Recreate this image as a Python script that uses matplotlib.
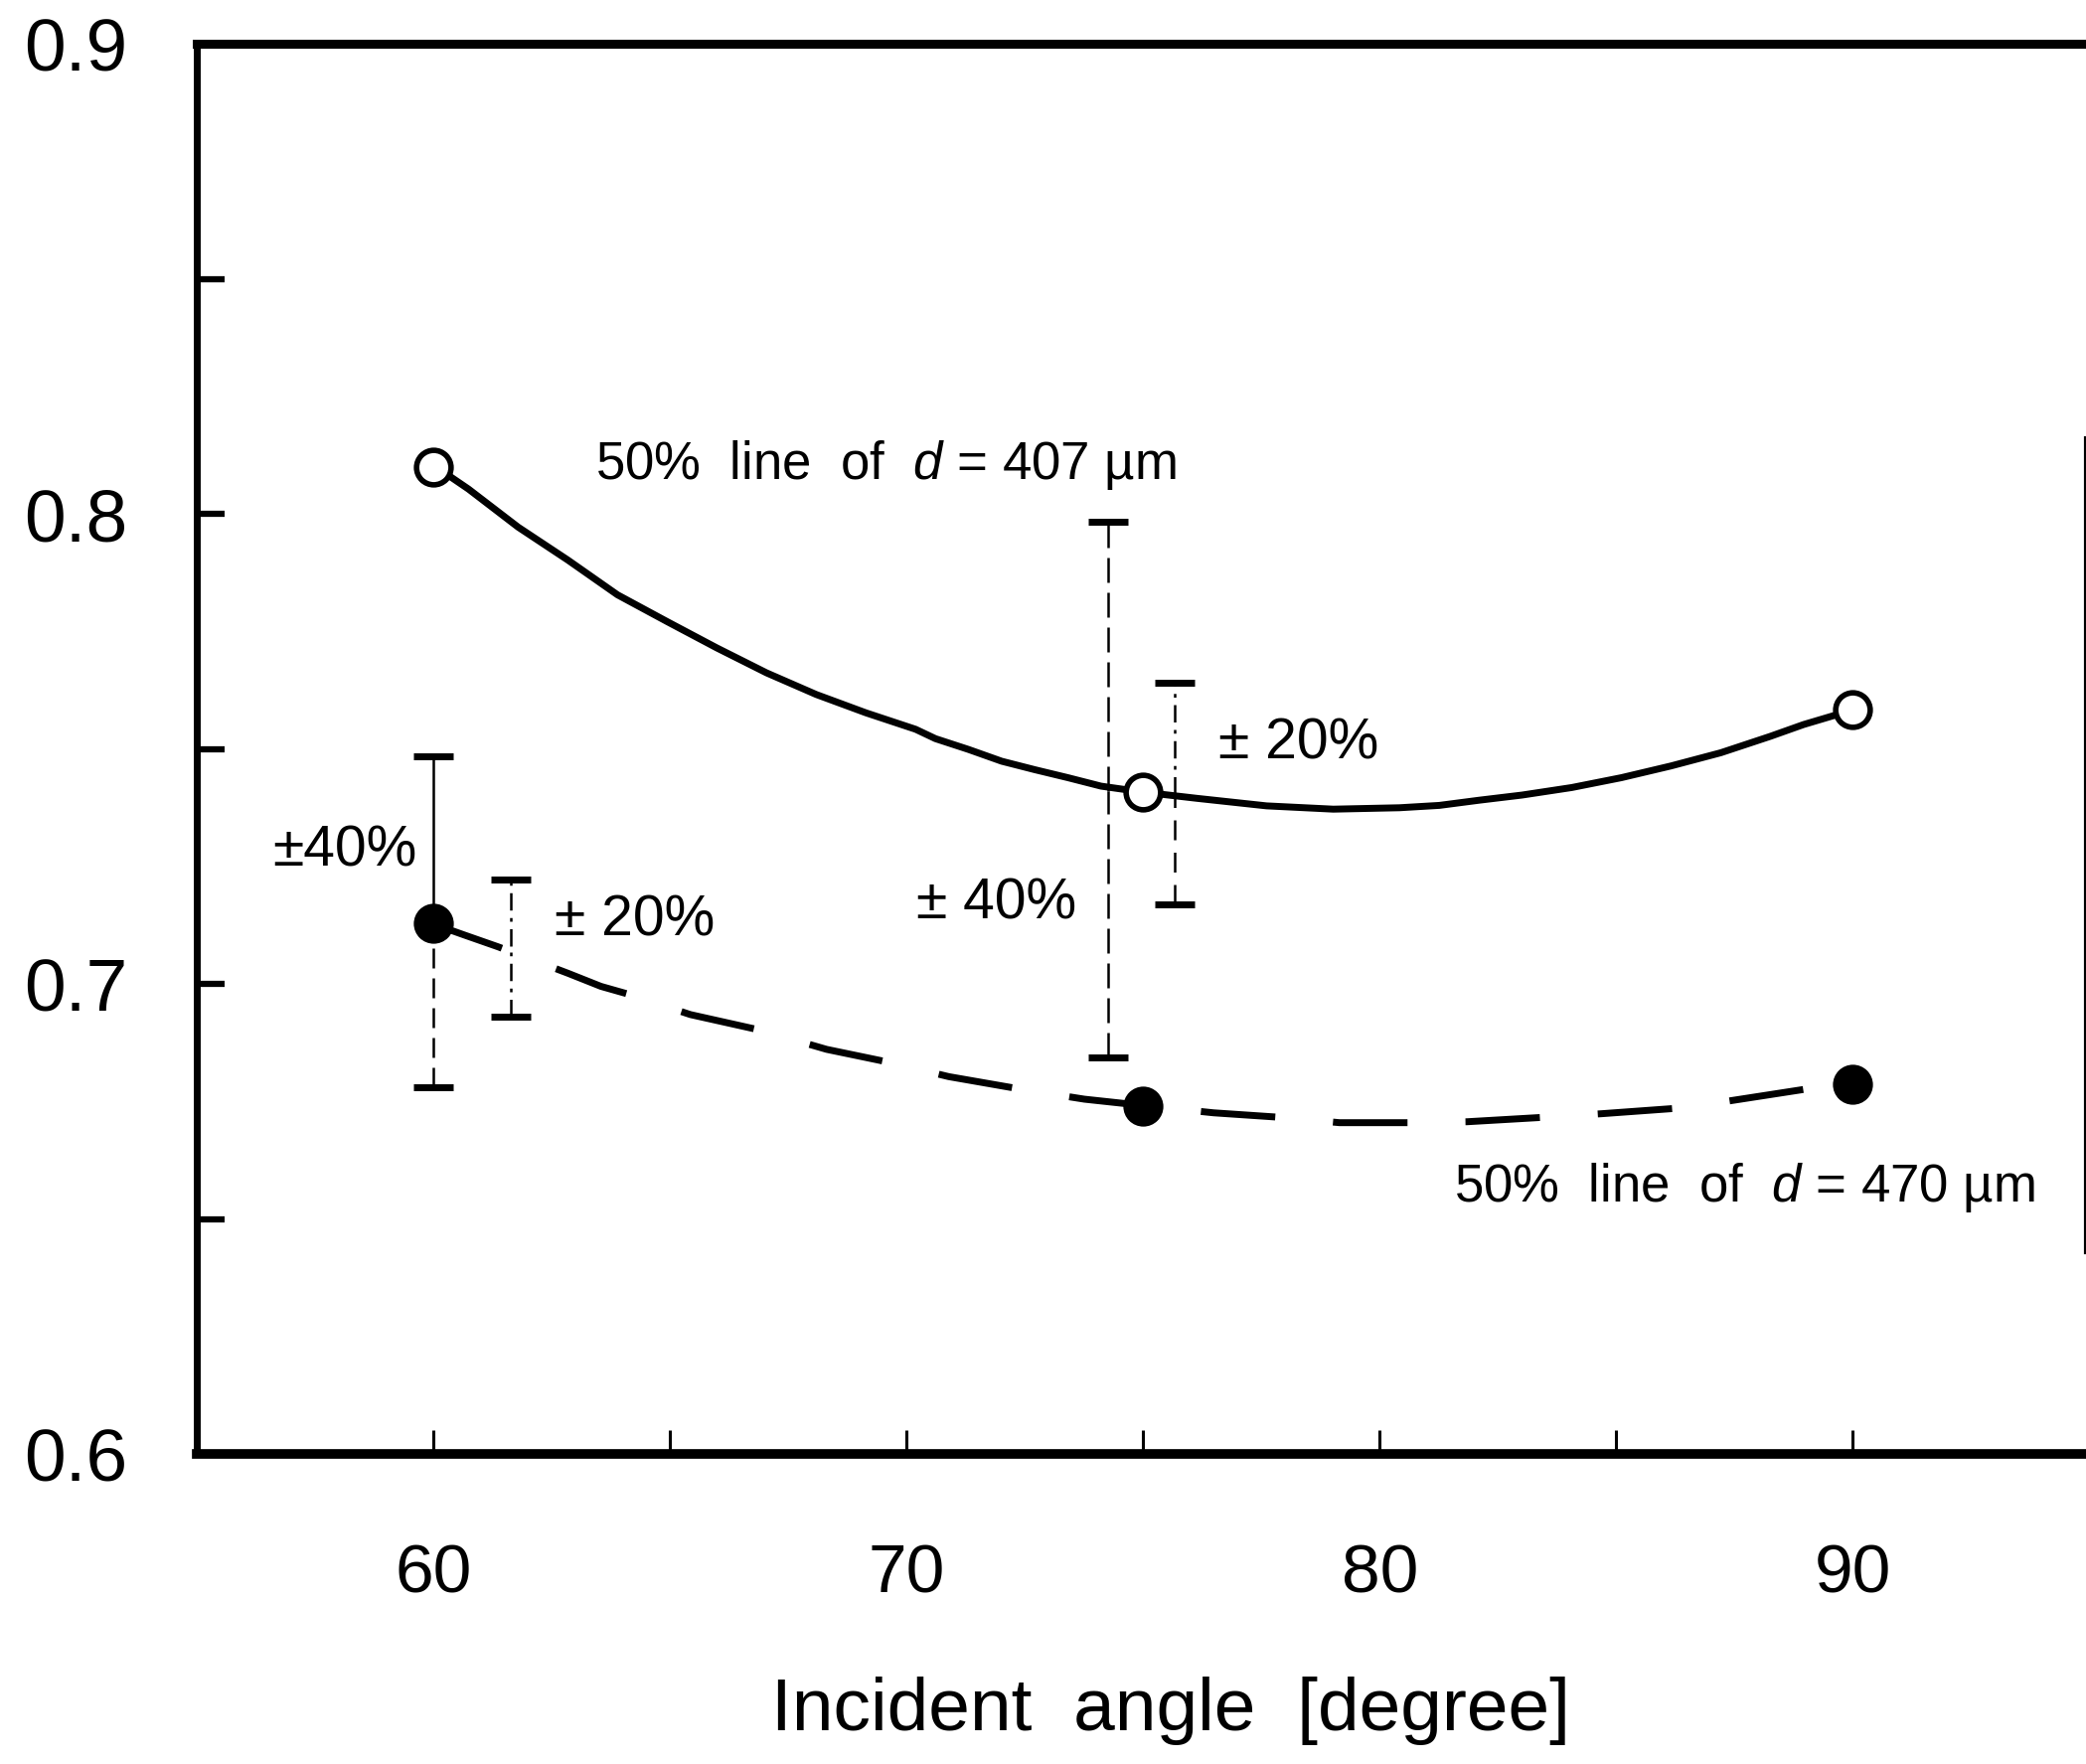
import matplotlib
matplotlib.use("Agg")
import matplotlib.pyplot as plt

plt.rcParams['font.family'] = ['Liberation Sans', 'DejaVu Sans']
plt.rcParams['mathtext.fontset'] = 'custom'
plt.rcParams['mathtext.it'] = 'Liberation Sans:italic'
plt.rcParams['mathtext.rm'] = 'Liberation Sans'

# ---- data ----
angles = [60, 75, 90]
open_y = [0.8099, 0.7408, 0.7584]     # d = 407 um
filled_y = [0.7129, 0.6741, 0.6786]   # d = 470 um

curve407_x = [60.07, 60.74, 61.79, 62.84, 63.89, 64.94, 65.99, 67.04, 68.09, 69.14,
              70.19, 70.61, 71.31, 72.01, 72.71, 73.41, 74.11, 75.02, 76.14, 77.61,
              79.02, 80.42, 81.26, 82.10, 83.01, 84.06, 85.11, 86.16, 87.21, 88.26,
              88.96, 90.03]
curve407_y = [0.8099, 0.8053, 0.7972, 0.7902, 0.7828, 0.7771, 0.7715, 0.7662, 0.7616,
              0.7577, 0.7542, 0.7522, 0.7499, 0.7474, 0.7456, 0.7439, 0.7421, 0.7408,
              0.7395, 0.7379, 0.7372, 0.7375, 0.7380, 0.7391, 0.7402, 0.7418, 0.7439,
              0.7464, 0.7492, 0.7527, 0.7552, 0.7584]

curve470_x = [59.96, 60.66, 61.37, 62.84, 63.54, 64.17, 65.43, 66.90, 68.31, 69.70,
              70.89, 72.43, 73.76, 75.05, 76.49, 77.96, 79.15, 80.66, 81.85, 83.39,
              84.68, 86.19, 87.37, 88.98, 90.0]
curve470_y = [0.7129, 0.7104, 0.7079, 0.7023, 0.6995, 0.6977, 0.6935, 0.6902, 0.6861,
              0.6832, 0.6803, 0.6776, 0.6755, 0.6741, 0.6726, 0.6716, 0.6705, 0.6705,
              0.6707, 0.6716, 0.6724, 0.6735, 0.6751, 0.6776, 0.6786]

ebar_x = [60.0, 61.63, 74.26, 75.67]
ebar_center = [0.7129, 0.7080, 0.7410, 0.7405]
ebar_lo = [0.6781, 0.6931, 0.6844, 0.7169]
ebar_hi = [0.7485, 0.7222, 0.7983, 0.7641]
ebar_labels = ['±40%', '± 20%', '± 40%', '± 20%']

x_ticks = [60, 70, 80, 90]
x_minor = [65, 75, 85]
y_ticks = [0.6, 0.7, 0.8, 0.9]
y_tick_labels = ['0.6', '0.7', '0.8', '0.9']
y_minor = [0.65, 0.75, 0.85]

label_407 = '50%  line  of  $d$ = 407 µm'
label_470 = '50%  line  of  $d$ = 470 µm'
xlabel = 'Incident  angle  [degree]'

# ---- figure ----
fig = plt.figure(figsize=(20.99, 17.75), dpi=100)
ax = fig.add_axes([0.0944, 0.1757, 1 - 0.0944, 0.7994])
ax.set_xlim(55, 94.93)
ax.set_ylim(0.6, 0.9)

# curves
ax.plot(curve407_x, curve407_y, color='black', lw=5, solid_capstyle='butt',
        solid_joinstyle='round', zorder=3)
ax.plot(curve470_x, curve470_y, color='black', lw=5, dashes=(10.8, 8.4),
        dash_capstyle='butt', zorder=3)

# markers
ax.plot(angles, open_y, 'o', ms=25, mfc='white', mec='black', mew=4, zorder=5)
ax.plot(angles, filled_y, 'o', ms=29, mfc='black', mec='black', mew=0, zorder=5)

# error bars
upper_styles = ['-', (0, (7, 3, 1.5, 3)), (0, (10, 4)), (0, (7, 3, 1.5, 3))]
lower_styles = [(0, (8, 4)), (0, (7, 3, 1.5, 3)), (0, (10, 4)), (0, (8, 5))]
cap_half = 0.42
for i in range(len(ebar_x)):
    ax.plot([ebar_x[i], ebar_x[i]], [ebar_center[i], ebar_hi[i]], color='black',
            lw=1.8, linestyle=upper_styles[i], zorder=2)
    ax.plot([ebar_x[i], ebar_x[i]], [ebar_lo[i], ebar_center[i]], color='black',
            lw=1.8, linestyle=lower_styles[i], zorder=2)
    ax.hlines([ebar_lo[i], ebar_hi[i]], ebar_x[i] - cap_half, ebar_x[i] + cap_half,
              color='black', lw=5, zorder=2)

# annotations
fs_in = 38
fs_pm = 41
ax.text(63.43, 0.8103, label_407, fontsize=fs_in, ha='left', va='center')
ax.text(81.56, 0.6566, label_470, fontsize=fs_in, ha='left', va='center')
ax.text(59.66, 0.7282, ebar_labels[0], fontsize=fs_pm, ha='right', va='center')
ax.text(62.56, 0.7135, ebar_labels[1], fontsize=fs_pm, ha='left', va='center')
ax.text(73.60, 0.7171, ebar_labels[2], fontsize=fs_pm, ha='right', va='center')
ax.text(76.59, 0.7511, ebar_labels[3], fontsize=fs_pm, ha='left', va='center')

# axes styling
ax.set_xticks(x_ticks)
ax.set_xticks(x_minor, minor=True)
ax.set_yticks(y_ticks)
ax.set_yticklabels(y_tick_labels)
ax.set_yticks(y_minor, minor=True)
ax.tick_params(which='both', direction='in', top=False, right=False)
ax.tick_params(axis='x', which='both', length=17, width=2.2)
ax.tick_params(axis='y', which='both', length=20, width=4.5)
ax.tick_params(axis='x', which='major', pad=64, labelsize=50)
ax.tick_params(axis='y', which='major', pad=50, labelsize=54)

ax.spines['left'].set_linewidth(5)
ax.spines['top'].set_linewidth(6.5)
ax.spines['bottom'].set_linewidth(7)
ax.spines['right'].set_linewidth(3)
ax.spines['right'].set_bounds(0.643, 0.816)

fig.text(0.561, 0.030, xlabel, fontsize=54, ha='center', va='center')

fig.savefig('out.png', dpi=100)
